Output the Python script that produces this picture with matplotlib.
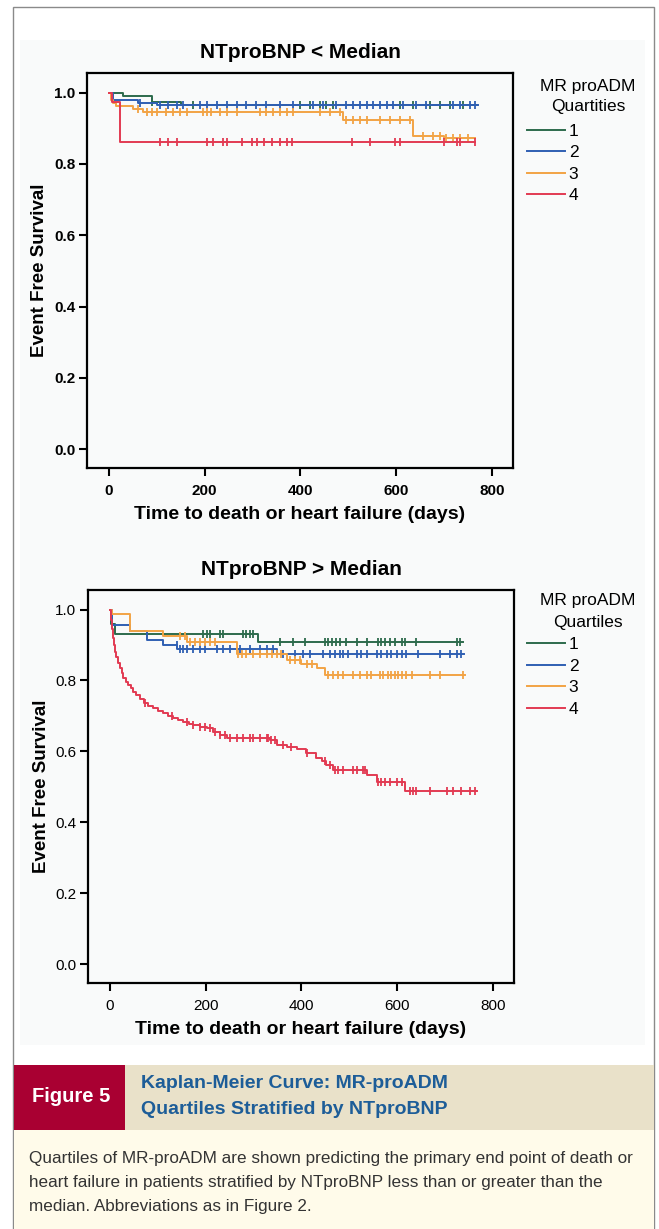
import numpy as np
import matplotlib
matplotlib.use("Agg")
import matplotlib.pyplot as plt
from matplotlib.patches import Rectangle
from matplotlib.lines import Line2D

plt.rcParams['font.family'] = ['Liberation Sans', 'DejaVu Sans']

W, H = 659, 1229

colors = ['#2d6b4c', '#2f5fb3', '#f2a345', '#e23a52']
group_labels = ['1', '2', '3', '4']

# ---- NTproBNP < Median: step times / survival, censor times, end of follow-up
low_times = [
    [0, 30, 89, 150],
    [0, 8, 60, 100],
    [0, 5, 9, 14, 51, 72, 489, 635, 700],
    [0, 6, 23],
]
low_surv = [
    [1.0, 0.99, 0.975, 0.966],
    [1.0, 0.98, 0.972, 0.966],
    [1.0, 0.98, 0.97, 0.962, 0.955, 0.947, 0.924, 0.877, 0.873],
    [1.0, 0.975, 0.862],
]
low_end = [769, 770, 765, 765]
low_censor = [
    [89, 176, 399, 420, 440, 454, 468, 607, 635, 670, 691, 712, 740],
    [65, 106, 124, 141, 155, 190, 204, 225, 246, 267, 287, 308, 329, 357, 385,
     427, 447, 475, 496, 510, 524, 538, 552, 566, 580, 593, 614, 642, 663, 719,
     733, 754, 764],
    [61, 79, 89, 100, 120, 134, 148, 162, 197, 204, 214, 232, 246, 267, 315,
     329, 343, 357, 371, 385, 440, 462, 482, 496, 510, 524, 538, 566, 587, 607,
     628, 656, 677, 691, 705, 719, 733, 750],
    [107, 124, 141, 204, 218, 239, 246, 277, 298, 309, 323, 340, 357, 371, 382,
     507, 545, 598, 608, 699, 727, 734, 765],
]

# ---- NTproBNP > Median
high_times = [
    [0, 3, 10, 309],
    [0, 4, 42, 77, 111, 140, 348],
    [0, 4, 42, 111, 160, 265, 369, 400, 432, 449],
    [0, 2, 4, 6, 8, 10, 13, 16, 20, 24, 28, 33, 38, 43, 49, 55, 62, 70, 80, 90,
     100, 111, 122, 132, 143, 153, 164, 174, 188, 202, 216, 230, 244, 334, 348,
     370, 390, 410, 431, 442, 452, 466, 536, 557, 616],
]
high_surv = [
    [1.0, 0.96, 0.93, 0.908],
    [1.0, 0.955, 0.94, 0.913, 0.899, 0.89, 0.874],
    [1.0, 0.986, 0.938, 0.925, 0.908, 0.874, 0.857, 0.845, 0.835, 0.815],
    [1.0, 0.97, 0.945, 0.92, 0.9, 0.88, 0.865, 0.85, 0.835, 0.82, 0.808, 0.797,
     0.787, 0.778, 0.768, 0.758, 0.747, 0.736, 0.728, 0.721, 0.714, 0.707, 0.7,
     0.693, 0.688, 0.683, 0.678, 0.674, 0.669, 0.665, 0.655, 0.646, 0.638,
     0.632, 0.618, 0.613, 0.606, 0.595, 0.581, 0.572, 0.562, 0.548, 0.534,
     0.515, 0.487],
]
high_end = [738, 740, 741, 766]
high_censor = [
    [195, 202, 209, 230, 237, 278, 285, 292, 299, 355, 383, 407, 449, 456, 463,
     473, 480, 494, 515, 536, 560, 567, 574, 585, 595, 609, 616, 640, 724, 731],
    [139, 146, 153, 160, 174, 188, 198, 223, 237, 251, 271, 292, 313, 327, 341,
     362, 386, 404, 418, 445, 459, 470, 480, 487, 498, 515, 525, 536, 557, 567,
     578, 588, 599, 609, 619, 644, 689, 710, 724, 734],
    [146, 157, 167, 177, 188, 198, 209, 219, 268, 275, 285, 299, 313, 327, 338,
     348, 358, 376, 386, 397, 411, 421, 456, 466, 477, 487, 508, 522, 536, 546,
     564, 571, 581, 588, 595, 602, 609, 619, 630, 668, 689, 738],
    [73, 129, 160, 174, 188, 198, 209, 219, 230, 240, 251, 265, 278, 292, 299,
     313, 327, 331, 337, 344, 362, 379, 411, 449, 459, 470, 477, 487, 508, 515,
     529, 532, 560, 567, 574, 585, 599, 609, 626, 633, 640, 668, 703, 717, 734,
     752, 762],
]

fig = plt.figure(figsize=(W / 100, H / 100), dpi=100)
fig.patch.set_facecolor('white')


def fpos(x, y):
    # figure pixels (y down) -> figure fraction
    return x / W, 1 - y / H


def box(x0, y0, x1, y1, **kw):
    # rectangle given in figure pixels, kept behind the axes
    fig.add_artist(Rectangle(fpos(x0, y1), (x1 - x0) / W, (y1 - y0) / H,
                             transform=fig.transFigure, zorder=-5, **kw))


# page frame and light panel
box(13, 7, 654, 1240, facecolor='white', edgecolor='#8a8a8a', linewidth=1.0)
box(20, 40, 645, 1045, facecolor='#f9fafa', edgecolor='none')


def km_panel(ax, times, surv, ends, censor, title, bold_ticks):
    for t, s, e, c, col, lab in zip(times, surv, ends, censor, colors, group_labels):
        tt = np.array(t + [e], dtype=float)
        ss = np.array(s + [s[-1]], dtype=float)
        ax.step(tt, ss, where='post', color=col, lw=1.4, label=lab)
        ct = np.array(c, dtype=float)
        idx = np.searchsorted(np.array(t, dtype=float), ct, side='right') - 1
        ax.plot(ct, np.array(s)[idx], linestyle='none', marker='|',
                markersize=6, markeredgewidth=1.3, color=col)
    ax.set_xlim(-46, 844)
    ax.set_ylim(-0.053, 1.055)
    ax.set_xticks([0, 200, 400, 600, 800])
    ax.set_yticks([0.0, 0.2, 0.4, 0.6, 0.8, 1.0])
    ax.set_yticklabels(['0.0', '0.2', '0.4', '0.6', '0.8', '1.0'])
    ax.set_facecolor('#f9fafa')
    for sp in ax.spines.values():
        sp.set_linewidth(1.6)
    ax.tick_params(direction='out', length=5.5, width=1.5, labelsize=11, pad=3)
    ax.tick_params(axis='x', pad=6)
    if bold_ticks:
        for lbl in ax.get_xticklabels() + ax.get_yticklabels():
            lbl.set_fontweight('bold')
    ax.set_title(title, fontsize=15, fontweight='bold', pad=11)
    ax.set_xlabel('Time to death or heart failure (days)', fontsize=14,
                  fontweight='bold', labelpad=6)
    ax.set_ylabel('Event Free Survival', fontsize=13.5, fontweight='bold',
                  labelpad=4)


def km_legend(ax, title_lines, title_y, entry_y, spacing):
    for line, ty in zip(title_lines, title_y):
        fig.text(*fpos(588, ty), line, fontsize=12.5, ha='center', va='center')
    handles = [Line2D([0], [0], color=c, lw=1.4) for c in colors]
    ax.legend(handles, group_labels, loc='upper left',
              bbox_to_anchor=fpos(527, entry_y - 6), bbox_transform=fig.transFigure,
              frameon=False, fontsize=12.5, handlelength=2.2, handletextpad=0.2,
              labelspacing=spacing, borderpad=0, borderaxespad=0)


ax1 = fig.add_axes([87 / W, 1 - 468 / H, 426 / W, 395 / H])
km_panel(ax1, low_times, low_surv, low_end, low_censor, 'NTproBNP < Median', True)
km_legend(ax1, ['MR proADM', 'Quartities'], (87, 107), 130, 0.35)

ax2 = fig.add_axes([88 / W, 1 - 983 / H, 426 / W, 393 / H])
km_panel(ax2, high_times, high_surv, high_end, high_censor, 'NTproBNP > Median', False)
km_legend(ax2, ['MR proADM', 'Quartiles'], (600, 622), 643, 0.37)

# caption block
box(14, 1065, 125, 1130, facecolor='#a90032', edgecolor='none')
box(125, 1065, 654, 1130, facecolor='#e9e1c9', edgecolor='none')
box(14, 1130, 654, 1240, facecolor='#fffbea', edgecolor='none')

fig.text(*fpos(71, 1097), 'Figure 5', color='white', fontsize=14.5,
         fontweight='bold', ha='center', va='center')
fig.text(*fpos(141, 1084), 'Kaplan-Meier Curve: MR-proADM', color='#1d5d98',
         fontsize=14, fontweight='bold', ha='left', va='center')
fig.text(*fpos(141, 1109), 'Quartiles Stratified by NTproBNP', color='#1d5d98',
         fontsize=14, fontweight='bold', ha='left', va='center')

caption = ['Quartiles of MR-proADM are shown predicting the primary end point of death or',
           'heart failure in patients stratified by NTproBNP less than or greater than the',
           'median. Abbreviations as in Figure 2.']
for i, line in enumerate(caption):
    fig.text(*fpos(29, 1158 + 24 * i), line, color='#333333',
             fontsize=12.3, ha='left', va='center')

fig.savefig('out.png', dpi=100)
